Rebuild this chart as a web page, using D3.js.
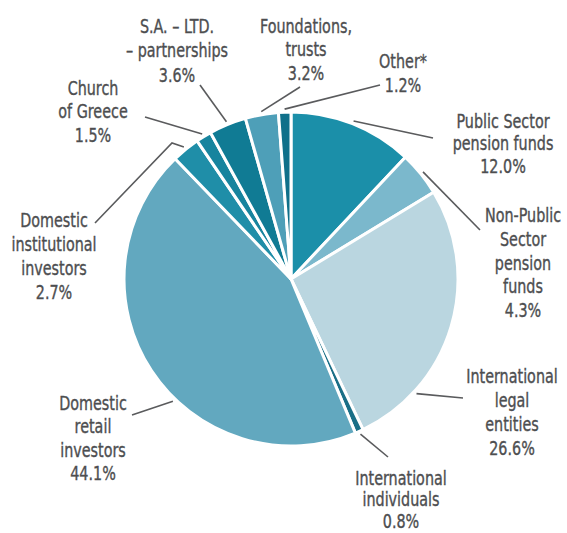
<!DOCTYPE html>
<html>
<head>
<meta charset="utf-8">
<script src="https://cdn.jsdelivr.net/npm/d3@7"></script>
<style>
  html, body { margin: 0; padding: 0; background: #ffffff; }
  svg { display: block; }
  .lbl { font-family: "DejaVu Sans", sans-serif; font-stretch: condensed; font-size: 19px; fill: #4d4e50; stroke: #4d4e50; stroke-width: 0.35px; }
</style>
</head>
<body>
<svg id="chart" width="567" height="533"></svg>
<script>
// Shareholder structure, % of share capital (clockwise from 12 o'clock)
const categories = [
  "Public Sector pension funds",
  "Non-Public Sector pension funds",
  "International legal entities",
  "International individuals",
  "Domestic retail investors",
  "Domestic institutional investors",
  "Church of Greece",
  "S.A. – LTD. – partnerships",
  "Foundations, trusts",
  "Other*"
];
const shares = [12.0, 4.3, 26.6, 0.8, 44.1, 2.7, 1.5, 3.6, 3.2, 1.2];
const labelLines = [
  ["Public Sector", "pension funds"],
  ["Non-Public", "Sector", "pension", "funds"],
  ["International", "legal", "entities"],
  ["International", "individuals"],
  ["Domestic", "retail", "investors"],
  ["Domestic", "institutional", "investors"],
  ["Church", "of Greece"],
  ["S.A. – LTD.", "– partnerships"],
  ["Foundations,", "trusts"],
  ["Other*"]
];
const sliceColors = [
  "#1b8fa9", "#7bb8cc", "#bad6e0", "#1a6f87", "#62a8bf",
  "#1f8ea8", "#17849e", "#107b94", "#4e9fb8", "#0f708a"
];

// Layout of the callouts: text anchor (centre x, first baseline, line step),
// where the leader leaves the pie (fraction through the slice) and its outer end.
const callouts = [
  { x: 503, y: 128, step: 22.5, at: 0.5,  end: [[433, 138]] },
  { x: 523, y: 222, step: 23.8, at: 0.5,  end: [[480, 230]] },
  { x: 512, y: 383, step: 24,   at: 0.77, end: [[463, 398]] },
  { x: 401, y: 485, step: 21.5, at: 0.5,  end: [[388, 457]] },
  { x: 93,  y: 410, step: 23.5, at: 0.42, end: [[132, 415]] },
  { x: 54,  y: 227, step: 24,   at: 0.5,  end: [[172, 143], [95, 223]] },
  { x: 93,  y: 95,  step: 23.5, at: 0.5,  end: [[145, 117]] },
  { x: 177, y: 33,  step: 24.5, at: 0.5,  end: [[200, 85]] },
  { x: 306, y: 33,  step: 23.5, at: 0.5,  end: [[300, 87]] },
  { x: 403, y: 68,  step: 24,   at: 0.5,  end: [[380, 85]] }
];
const squeeze = 0.84; // horizontal squeeze of the label face

const cx = 291, cy = 279, radius = 167;
const svg = d3.select("#chart");
const g = svg.append("g").attr("transform", `translate(${cx},${cy})`);

const pie = d3.pie().sort(null).value(d => d)(shares);
const arc = d3.arc().innerRadius(0).outerRadius(radius);

g.selectAll("path.slice")
  .data(pie)
  .join("path")
  .attr("class", "slice")
  .attr("d", arc)
  .attr("fill", (d, i) => sliceColors[i])
  .attr("stroke", "#ffffff")
  .attr("stroke-width", 3)
  .attr("stroke-linejoin", "round");

// Leader lines
const edgeR = radius + 3;
g.selectAll("path.leader")
  .data(pie)
  .join("path")
  .attr("class", "leader")
  .attr("fill", "none")
  .attr("stroke", "#5a5b5d")
  .attr("stroke-width", 1.6)
  .attr("d", (d, i) => {
    const c = callouts[i];
    const a = d.startAngle + (d.endAngle - d.startAngle) * c.at;
    const p0 = [edgeR * Math.sin(a), -edgeR * Math.cos(a)];
    const pts = [p0].concat(c.end.map(p => [p[0] - cx, p[1] - cy]));
    return d3.line()(pts);
  });

// Labels
const fmt = d3.format(".1f");
const labels = svg.selectAll("text.lbl")
  .data(pie)
  .join("text")
  .attr("class", "lbl")
  .attr("text-anchor", "middle")
  .attr("transform", (d, i) => `translate(${callouts[i].x},${callouts[i].y}) scale(${squeeze},1)`);

labels.each(function(d, i) {
  const lines = labelLines[i].concat([fmt(d.value) + "%"]);
  d3.select(this).selectAll("tspan")
    .data(lines)
    .join("tspan")
    .attr("x", 0)
    .attr("dy", (t, k) => k === 0 ? 0 : callouts[i].step)
    .text(t => t);
});
</script>
</body>
</html>
